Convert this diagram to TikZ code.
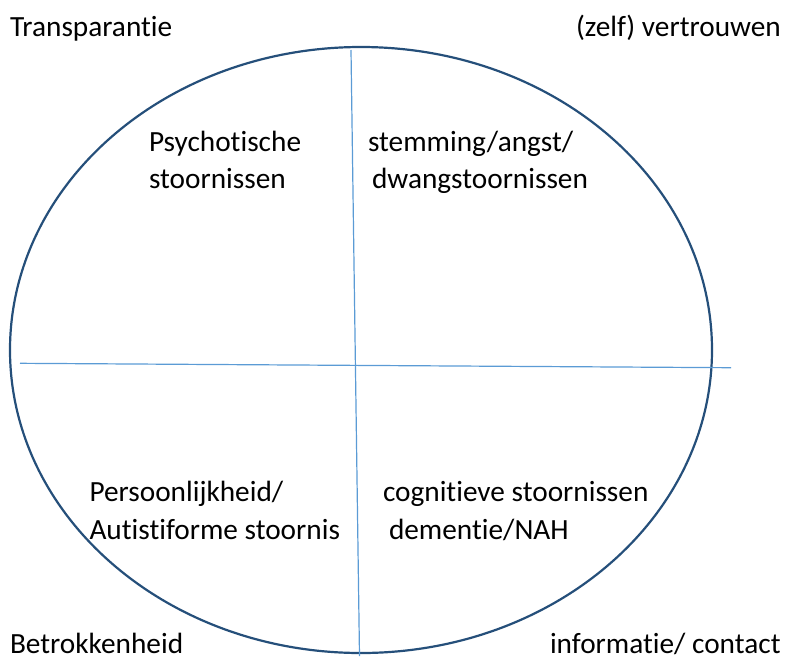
\documentclass[tikz,border=0pt]{standalone}
\usepackage{fontspec}
\setmainfont[RawFeature=-liga]{Carlito}
\definecolor{rimblue}{RGB}{37,79,122}
\definecolor{axisblue}{RGB}{91,155,213}
\begin{document}
\begin{tikzpicture}[x=1pt,y=-1pt,
  label/.style={anchor=base west,inner sep=0pt,outer sep=0pt,
    font=\fontsize{29.3}{35}\selectfont,text=black},
  rim/.style={draw=rimblue,line width=2.2pt},
  axis/.style={draw=axisblue,line width=1.2pt}]
\useasboundingbox (0,0) rectangle (785,657);
% outer ellipse
\draw[rim] (361,350) ellipse [x radius=351, y radius=303];
% axes
\coordinate (vtop) at (351,50);
\coordinate (vbot) at (359.5,656);
\coordinate (hleft) at (20,363.3);
\coordinate (hright) at (731,367.7);
\draw[axis] (vtop) -- (vbot);
\draw[axis] (hleft) -- (hright);
% corner labels
\node[label] (tl) at (10,36) {Transparantie};
\node[label] (tr) at (576,36) {(zelf) vertrouwen};
\node[label] (bl) at (10,653) {Betrokkenheid};
\node[label] (br) at (550,653) {informatie/ contact};
% quadrant labels
\node[label] (q1a) at (149,151.7) {Psychotische};
\node[label] (q1b) at (149,188.5) {stoornissen};
\node[label] (q2a) at (368,151.7) {stemming/angst/};
\node[label] (q2b) at (372,188.5) {dwangstoornissen};
\node[label] (q3a) at (89.5,501.5) {Persoonlijkheid/};
\node[label] (q3b) at (89.5,539) {Autistiforme stoornis};
\node[label] (q4a) at (383,501.5) {cognitieve stoornissen};
\node[label] (q4b) at (389,539) {dementie/NAH};
\end{tikzpicture}
\end{document}
